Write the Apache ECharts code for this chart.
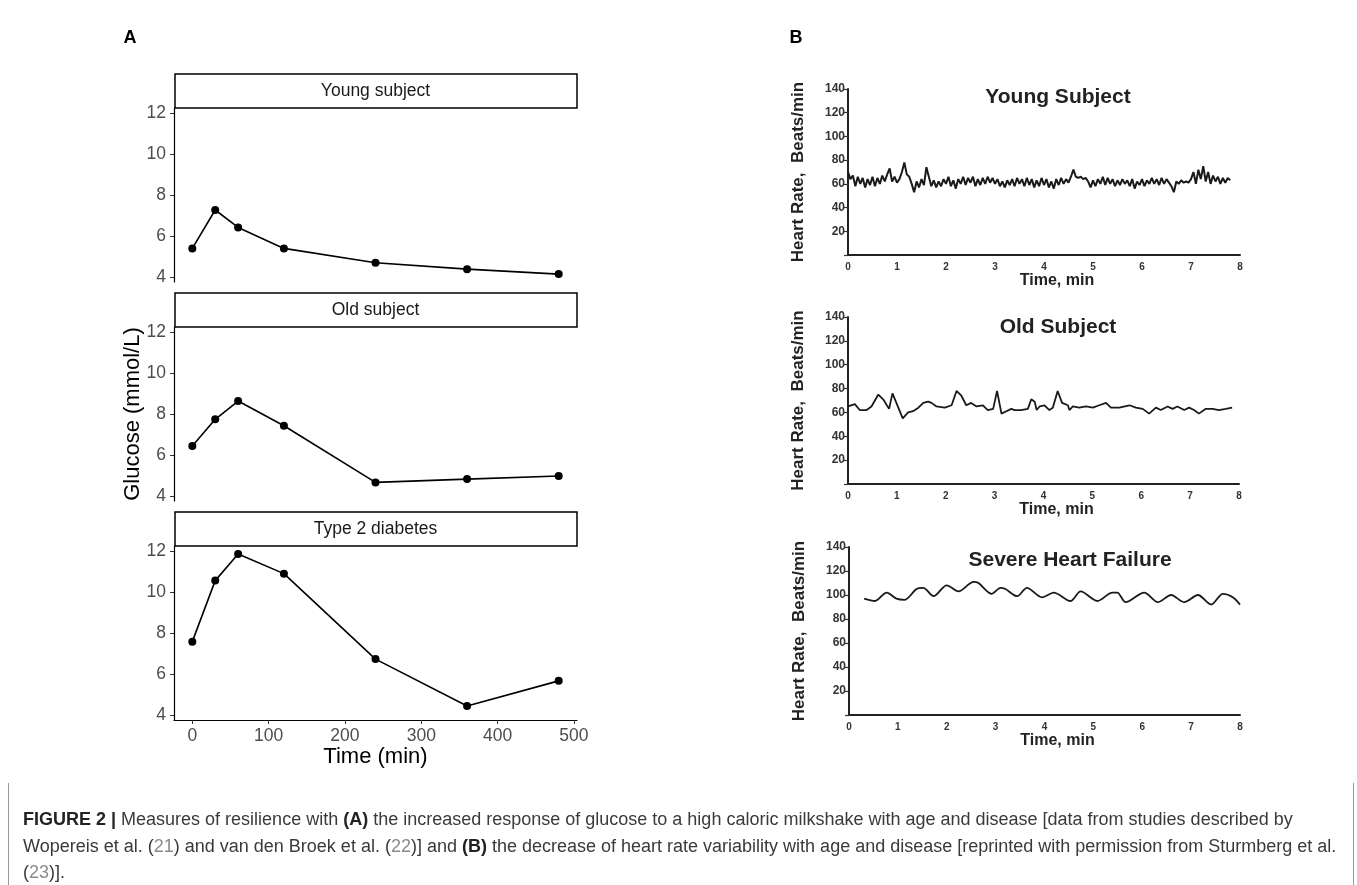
<!DOCTYPE html>
<html><head><meta charset="utf-8">
<script src="https://cdn.jsdelivr.net/npm/echarts@6/dist/echarts.min.js"></script>
<style>
html,body{margin:0;padding:0;background:#fff;}
#chart{position:absolute;left:0;top:0;width:1357px;height:885px;}
#caption{position:absolute;left:8px;top:783px;width:1346px;height:102px;border-left:1px solid #9a9a9a;border-right:1px solid #9a9a9a;box-sizing:border-box;font-family:"Liberation Sans",Arial,sans-serif;font-size:18px;color:#3a3a3a;}
#caption div{position:absolute;left:14px;white-space:nowrap;line-height:20px;}
#caption b{color:#222}
.ref{color:#8a8a8a}
</style></head><body>
<div id="chart"></div>
<div id="caption">
<div style="top:26px"><b>FIGURE 2 |</b> Measures of resilience with <b>(A)</b> the increased response of glucose to a high caloric milkshake with age and disease [data from studies described by</div>
<div style="top:53px">Wopereis et al. (<span class="ref">21</span>) and van den Broek et al. (<span class="ref">22</span>)] and <b>(B)</b> the decrease of heart rate variability with age and disease [reprinted with permission from Sturmberg et al.</div>
<div style="top:79px">(<span class="ref">23</span>)].</div>
</div>
<script>
// ---------- Panel A data ----------
const glucoseTimes = [0, 30, 60, 120, 240, 360, 480];
const youngGlucose = [5.40, 7.27, 6.42, 5.40, 4.70, 4.39, 4.15];
const oldGlucose   = [6.44, 7.74, 8.63, 7.43, 4.67, 4.83, 4.98];
const t2dGlucose   = [7.58, 10.55, 11.85, 10.89, 6.73, 4.45, 5.67];
const glucoseTicks = [4, 6, 8, 10, 12];
const timeTicks = [0, 100, 200, 300, 400, 500];
const facetNames = ['Young subject', 'Old subject', 'Type 2 diabetes'];

// ---------- Panel B data ----------
const youngHrStart = 0, youngHrStep = 0.05; // sampling of the trace (min)
const youngHr = [
 70,64,67,58,66,60,65,57,64,59,66,
 58,65,60,67,62,68,73,62,66,61,
 64,70,78,68,66,60,53,62,57,64,
 59,74,66,58,63,57,62,58,64,60,
 66,58,63,56,64,60,66,59,65,61,
 66,58,64,59,65,60,66,61,65,60,
 64,58,62,57,63,59,64,58,65,60,
 64,58,65,59,64,57,63,58,65,59,
 64,57,62,56,64,59,65,60,64,61,
 66,72,66,65,66,64,65,62,57,63,
 58,64,60,66,59,65,60,64,58,63,
 59,64,60,63,58,64,56,62,59,64,
 58,63,60,65,60,64,59,65,60,64,
 61,58,53,62,60,63,61,62,61,64,
 70,60,72,64,75,62,70,60,67,62,
 66,60,65,61,65,63
];
const oldHrT = [0.00,0.14,0.24,0.38,0.48,0.62,0.72,0.84,0.91,0.99,1.12,1.23,1.33,1.44,1.54,1.64,1.71,1.81,1.98,2.12,2.22,2.32,2.42,2.52,2.63,2.76,2.86,2.97,3.05,3.14,3.24,3.34,3.41,3.54,3.68,3.75,3.82,3.86,3.92,4.02,4.12,4.19,4.29,4.38,4.50,4.53,4.60,4.73,4.87,5.01,5.14,5.28,5.38,5.55,5.76,5.89,6.03,6.16,6.30,6.40,6.54,6.64,6.74,6.88,6.98,7.08,7.18,7.32,7.46,7.59,7.73,7.86];
const oldHrV = [65,67,62,62,65,75,71,63,76,68,55,60,61,64,68,69,68,65,64,66,78,74,66,68,65,66,62,63,78,59,61,63,62,62,63,71,69,62,65,66,62,64,78,68,66,62,65,64,65,64,66,68,64,64,66,64,63,59,64,62,65,63,65,62,64,62,59,63,63,62,63,64];
const hfHrT = [0.31,0.53,0.77,0.97,1.14,1.38,1.52,1.73,2.00,2.24,2.55,2.65,2.92,3.10,3.20,3.44,3.64,3.95,4.19,4.53,4.74,5.08,5.39,5.49,5.66,6.04,6.32,6.59,6.86,7.14,7.41,7.65,7.86,8.00];
const hfHrV = [97,95,102,97,96,105,106,99,108,103,111,110,101,106,105,99,106,98,102,95,103,95,102,102,94,102,94,100,94,100,92,101,98,92];
const hrTitles = ['Young Subject', 'Old Subject', 'Severe Heart Failure'];

// ---------- layout ----------
const FONT = '"Liberation Sans", Arial, Helvetica, sans-serif';
const gridA = [
  {left: 174, top: 108, width: 403, height: 174},
  {left: 174, top: 327, width: 403, height: 174},
  {left: 174, top: 546, width: 403, height: 174}
];
const stripH = 34;
const gridB = [
  {left: 848, top: 89, width: 392, height: 166},
  {left: 848, top: 317, width: 391, height: 167},
  {left: 849, top: 547, width: 391, height: 168}
];
const hrTitlePos = [[1058, 97], [1058, 327], [1070, 560]];

const chart = echarts.init(document.getElementById('chart'), null, {renderer: 'canvas'});

const grids = [], xAxes = [], yAxes = [], series = [], graphics = [];

const glucoseSets = [youngGlucose, oldGlucose, t2dGlucose];
gridA.forEach((g, i) => {
  grids.push(Object.assign({containLabel: false}, g));
  const last = i === 2;
  xAxes.push({
    type: 'value', gridIndex: i, min: -24, max: 504, show: last,
    axisLine: {show: true, onZero: false, lineStyle: {color: '#000', width: 1.2}},
    axisTick: {show: true, length: 4, lineStyle: {color: '#333'}, customValues: timeTicks},
    axisLabel: {color: '#4d4d4d', fontSize: 17.5, fontFamily: FONT, margin: 7, customValues: timeTicks},
    splitLine: {show: false},
    name: last ? 'Time (min)' : '', nameLocation: 'middle', nameGap: 23,
    nameTextStyle: {color: '#000', fontSize: 22, fontFamily: FONT}
  });
  yAxes.push({
    type: 'value', gridIndex: i, min: 3.765, max: 12.235,
    axisLine: {show: true, onZero: false, lineStyle: {color: '#000', width: 1.2}},
    axisTick: {show: true, length: 4, lineStyle: {color: '#333'}, customValues: glucoseTicks},
    axisLabel: {color: '#4d4d4d', fontSize: 17.5, fontFamily: FONT, margin: 8, customValues: glucoseTicks},
    splitLine: {show: false}
  });
  series.push({
    type: 'line', xAxisIndex: i, yAxisIndex: i,
    data: glucoseTimes.map((t, k) => [t, glucoseSets[i][k]]),
    symbol: 'circle', symbolSize: 8, showSymbol: true,
    lineStyle: {color: '#000', width: 1.6}, itemStyle: {color: '#000'},
    z: 3
  });
  // facet strip
  graphics.push({type: 'rect', z: 10,
    shape: {x: g.left + 1, y: g.top - stripH, width: g.width - 1, height: stripH},
    style: {fill: '#fff', stroke: '#000', lineWidth: 1.5}});
  graphics.push({type: 'text', z: 11,
    style: {text: facetNames[i], x: g.left + g.width / 2, y: g.top - stripH / 2,
      align: 'center', verticalAlign: 'middle', fill: '#1a1a1a', font: '17.5px ' + FONT}});
});

const hrSets = [
  youngHr.map((v, k) => [youngHrStart + k * youngHrStep, v]),
  oldHrT.map((t, k) => [t, oldHrV[k]]),
  hfHrT.map((t, k) => [t, hfHrV[k]])
];
gridB.forEach((g, j) => {
  const i = j + 3;
  grids.push(Object.assign({containLabel: false}, g));
  xAxes.push({
    type: 'value', gridIndex: i, min: 0, max: 8, interval: 1,
    axisLine: {show: true, onZero: false, lineStyle: {color: '#222', width: 2}},
    axisTick: {show: false},
    axisLabel: {color: '#333', fontSize: 10, fontWeight: 'bold', fontFamily: FONT, margin: 7},
    splitLine: {show: false},
    name: 'Time, min', nameLocation: 'middle', nameGap: 18,
    nameTextStyle: {color: '#222', fontSize: 16, fontWeight: 'bold', fontFamily: FONT, padding: [0, 0, 0, 26]}
  });
  yAxes.push({
    type: 'value', gridIndex: i, min: 0, max: 140, interval: 20,
    axisLine: {show: true, onZero: false, lineStyle: {color: '#222', width: 2}},
    axisTick: {show: true, length: 4, lineStyle: {color: '#333', width: 1.2}},
    axisLabel: {color: '#333', fontSize: 12, fontWeight: 'bold', fontFamily: FONT, margin: 3,
      formatter: v => (v === 0 ? '' : String(v))},
    splitLine: {show: false},
    name: 'Heart Rate,  Beats/min', nameLocation: 'middle', nameGap: 41, nameRotate: 90,
    nameTextStyle: {color: '#222', fontSize: 17, fontWeight: 'bold', fontFamily: FONT}
  });
  series.push({
    type: 'line', xAxisIndex: i, yAxisIndex: i, data: hrSets[j],
    showSymbol: false, symbol: 'none', smooth: j === 2 ? 0.3 : false,
    lineStyle: {color: '#1a1a1a', width: j === 0 ? 2 : 1.8}
  });
  graphics.push({type: 'text', z: 11,
    style: {text: hrTitles[j], x: hrTitlePos[j][0], y: hrTitlePos[j][1],
      align: 'center', verticalAlign: 'middle', fill: '#222', font: 'bold 21px ' + FONT}});
});

// panel labels & shared y title
graphics.push({type: 'text', style: {text: 'A', x: 130, y: 38, align: 'center', verticalAlign: 'middle', fill: '#000', font: 'bold 18px ' + FONT}});
graphics.push({type: 'text', style: {text: 'B', x: 796, y: 38, align: 'center', verticalAlign: 'middle', fill: '#000', font: 'bold 18px ' + FONT}});
graphics.push({type: 'text', x: 133, y: 414, rotation: Math.PI / 2,
  style: {text: 'Glucose (mmol/L)', x: 0, y: 0, align: 'center', verticalAlign: 'middle', fill: '#000', font: '22px ' + FONT}});

chart.setOption({
  animation: false,
  backgroundColor: '#fff',
  grid: grids, xAxis: xAxes, yAxis: yAxes, series: series,
  graphic: {elements: graphics}
});
</script>
</body></html>
